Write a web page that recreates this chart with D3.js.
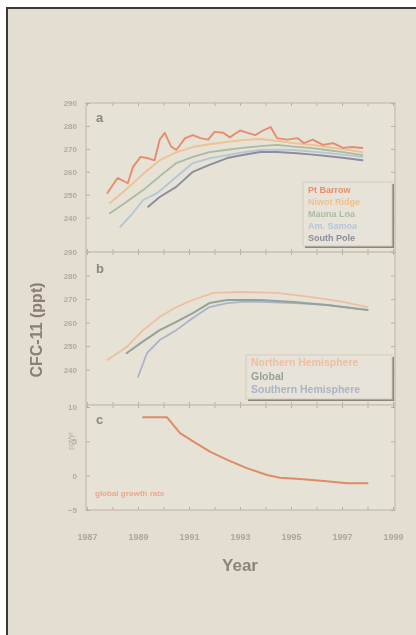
<!DOCTYPE html>
<html>
<head>
<meta charset="utf-8">
<script src="https://cdn.jsdelivr.net/npm/d3@7"></script>
<style>
  body { margin: 0; background: #fff; }
  svg { display: block; }
  text { font-family: "Liberation Sans", Arial, sans-serif; }
</style>
</head>
<body>
<div id="chart"></div>
<script>
// ---- data ----
const years = [1987, 1989, 1991, 1993, 1995, 1997, 1999];

const stations = ["Pt Barrow", "Niwot Ridge", "Mauna Loa", "Am. Samoa", "South Pole"];
const stationColors = ["#e58d6e", "#edc190", "#adba9f", "#b3c6d6", "#8b8c9d"];

const barrow = [[1987.8, 250.7], [1988.2, 257.3], [1988.6, 255], [1988.8, 262], [1989.1, 266.5], [1989.35, 266],
  [1989.65, 265], [1989.85, 274], [1990.05, 277], [1990.3, 271], [1990.5, 269.5], [1990.85, 274.7],
  [1991.15, 276], [1991.45, 274.7], [1991.75, 274], [1992.0, 277.4], [1992.35, 277], [1992.6, 275],
  [1993.0, 278], [1993.3, 277], [1993.6, 276], [1993.9, 278], [1994.2, 279.5], [1994.45, 274.7],
  [1994.85, 274], [1995.25, 274.7], [1995.5, 272.5], [1995.85, 274], [1996.25, 271.7], [1996.65, 272.5],
  [1997.05, 270.4], [1997.4, 270.8], [1997.8, 270.4]];
const niwot = [[1987.9, 246.4], [1988.5, 252], [1989.2, 259], [1989.85, 265], [1990.5, 268.5], [1991.15, 270.8],
  [1991.8, 272], [1992.5, 273], [1993.1, 273.8], [1993.8, 274.3], [1994.45, 273.5], [1995.1, 272.5],
  [1995.75, 271.8], [1996.4, 270.8], [1997.1, 269.8], [1997.8, 268.6]];
const maunaLoa = [[1987.9, 241.9], [1988.5, 246.5], [1989.2, 252], [1989.85, 258], [1990.5, 263.8], [1991.15, 266.5],
  [1991.8, 268.6], [1992.5, 269.6], [1993.1, 270.4], [1993.8, 271.2], [1994.45, 271.7], [1995.1, 271],
  [1995.75, 270.4], [1996.4, 269.5], [1997.05, 268.6], [1997.8, 267.3]];
const samoa = [[1988.3, 236], [1988.8, 242], [1989.2, 247.7], [1989.75, 250.7], [1990.5, 257.7], [1991.15, 263.8],
  [1991.8, 265.8], [1992.5, 267.3], [1993.1, 268.5], [1993.8, 269.5], [1994.45, 269.7], [1995.1, 269.5],
  [1995.75, 268.9], [1996.4, 268.2], [1997.1, 267.4], [1997.8, 266.5]];
const southPole = [[1989.4, 244.7], [1989.85, 249], [1990.5, 253.4], [1991.15, 260], [1991.8, 263], [1992.5, 266],
  [1993.1, 267.3], [1993.8, 268.6], [1994.45, 268.6], [1995.1, 268.2], [1995.75, 267.6], [1996.4, 266.9],
  [1997.1, 266], [1997.8, 265]];

const regions = ["Northern Hemisphere", "Global", "Southern Hemisphere"];
const regionColors = ["#efbea2", "#95a29a", "#aab3c8"];

const northern = [[1987.8, 244.1], [1988.55, 249.6], [1989.2, 256.8], [1989.85, 262.4], [1990.5, 266.6], [1991.15, 269.6],
  [1991.95, 272.6], [1993.1, 273], [1994.45, 272.6], [1995.75, 270.9], [1997.05, 268.8], [1998.0, 266.6]];
const global = [[1988.55, 247], [1989.1, 251.3], [1989.85, 256.8], [1990.5, 260.3], [1991.15, 264], [1991.8, 268.3],
  [1992.5, 269.6], [1993.8, 269.6], [1995.1, 268.8], [1996.4, 267.5], [1998.0, 265.4]];
const southern = [[1989.0, 236.9], [1989.35, 247], [1989.85, 252.6], [1990.5, 256.8], [1991.15, 262], [1991.8, 266.6],
  [1992.5, 268.3], [1993.1, 268.8], [1993.8, 268.8], [1995.1, 268.3], [1996.4, 267.5], [1998.0, 265.4]];

const growth = [[1989.2, 8.5], [1990.14, 8.5], [1990.65, 6.2], [1991.16, 5.0], [1991.82, 3.5], [1992.5, 2.3],
  [1993.27, 1.1], [1994.06, 0.1], [1994.57, -0.3], [1995.35, -0.5], [1996.4, -0.8], [1997.2, -1.1], [1998.0, -1.1]];

const ppTicks = [240, 250, 260, 270, 280, 290];
const growthTicks = [-5, 0, 5, 10];

// ---- drawing ----
const W = 416, H = 635;
const svg = d3.select("#chart").append("svg").attr("width", W).attr("height", H);

// soft focus, like the photographed slide
svg.append("defs").append("filter").attr("id", "soft")
  .append("feGaussianBlur").attr("stdDeviation", 0.55);

// slide frame
svg.append("rect").attr("x", 7).attr("y", 8).attr("width", W).attr("height", H)
  .attr("fill", "#e3ded1").attr("stroke", "#3a3a3a").attr("stroke-width", 2);

const root = svg.append("g").attr("filter", "url(#soft)");

const x = d3.scaleLinear().domain([1987, 1999]).range([87, 393]);
const yA = d3.scaleLinear().domain([225, 290]).range([252, 103]);
const yB = d3.scaleLinear().domain([225, 290]).range([405, 252]);
const yC = d3.scaleLinear().domain([-5, 10]).range([510, 407]);

const frameColor = "#cbc3b5";
const tickColor = "#b9afa1";

function panel(y, top, bottom, ticks) {
  const g = root.append("g");
  g.append("rect").attr("x", 86).attr("y", top).attr("width", 309).attr("height", bottom - top)
    .attr("fill", "#e6e2d6").attr("stroke", frameColor).attr("stroke-width", 1.5);

  const left = g.append("g").attr("transform", "translate(86,0)")
    .call(d3.axisLeft(y).tickValues(ticks).tickSize(-4).tickPadding(9));
  const right = g.append("g").attr("transform", "translate(395,0)")
    .call(d3.axisRight(y).tickValues(ticks).tickSize(-4).tickFormat(""));
  const topAx = g.append("g").attr("transform", `translate(0,${top})`)
    .call(d3.axisTop(x).ticks(12).tickSize(-3).tickFormat(""));
  const botAx = g.append("g").attr("transform", `translate(0,${bottom})`)
    .call(d3.axisBottom(x).ticks(12).tickSize(-3).tickFormat(""));
  [left, right, topAx, botAx].forEach(a => {
    a.select(".domain").remove();
    a.selectAll("line").attr("stroke", tickColor);
    a.selectAll("text").attr("fill", "#b3aa9c").style("font-size", "8px").style("font-weight", "bold");
  });
  return g;
}

function series(g, y, data, color, width) {
  const line = d3.line().x(d => x(d[0])).y(d => y(d[1]));
  g.append("path").datum(data).attr("d", line)
    .attr("fill", "none").attr("stroke", color).attr("stroke-width", width)
    .attr("stroke-linejoin", "round").attr("stroke-linecap", "round");
}

// panel a
const gA = panel(yA, 103, 252, ppTicks);
series(gA, yA, samoa, stationColors[3], 1.8);
series(gA, yA, maunaLoa, stationColors[2], 1.8);
series(gA, yA, niwot, stationColors[1], 1.8);
series(gA, yA, southPole, stationColors[4], 1.9);
series(gA, yA, barrow, stationColors[0], 1.9);

// panel b
const gB = panel(yB, 252, 405, ppTicks);
series(gB, yB, northern, regionColors[0], 1.8);
series(gB, yB, southern, regionColors[2], 1.8);
series(gB, yB, global, regionColors[1], 2);

// panel c
const gC = panel(yC, 405, 510, growthTicks);
series(gC, yC, growth, "#e08a66", 2);

// panel letters
[["a", 122], ["b", 273], ["c", 424]].forEach(([t, yy]) => {
  root.append("text").attr("x", 96).attr("y", yy).text(t)
    .attr("fill", "#8f877e").style("font-size", "13px").style("font-weight", "bold");
});

// legends
function legend(x0, y0, w, h, names, colors, size, step) {
  root.append("rect").attr("x", x0 + 2).attr("y", y0 + 2).attr("width", w).attr("height", h)
    .attr("fill", "#8d857c");
  root.append("rect").attr("x", x0).attr("y", y0).attr("width", w).attr("height", h)
    .attr("fill", "#e7e3d8").attr("stroke", "#d3ccbf");
  names.forEach((n, i) => {
    root.append("text").attr("x", x0 + 5).attr("y", y0 + 11 + i * step).text(n)
      .attr("fill", colors[i]).style("font-size", size).style("font-weight", "bold");
  });
}
legend(303, 182, 89, 64, stations, stationColors, "9px", 12);
legend(246, 355, 146, 44, regions, regionColors, "10.5px", 13.5);

// x tick labels
const xa = root.append("g").attr("transform", "translate(0,531)")
  .call(d3.axisBottom(x).tickValues(years).tickFormat(d3.format("d")).tickSize(0));
xa.select(".domain").remove();
xa.selectAll("text").attr("fill", "#b0a798").style("font-size", "9px").style("font-weight", "bold");

root.append("text").attr("x", 240).attr("y", 571).attr("text-anchor", "middle").text("Year")
  .attr("fill", "#8b847b").style("font-size", "17px").style("font-weight", "bold");

root.append("text").attr("transform", "translate(42,330) rotate(-90)").attr("text-anchor", "middle")
  .text("CFC-11 (ppt)").attr("fill", "#8a7e77").style("font-size", "16px").style("font-weight", "bold");

root.append("text").attr("transform", "translate(73,441) rotate(-90)").attr("text-anchor", "middle")
  .text("ppt/yr").attr("fill", "#b3aa9c").style("font-size", "7px");

root.append("text").attr("x", 95).attr("y", 496).text("global growth rate")
  .attr("fill", "#eaa88c").style("font-size", "8px").style("font-weight", "bold");
</script>
</body>
</html>
